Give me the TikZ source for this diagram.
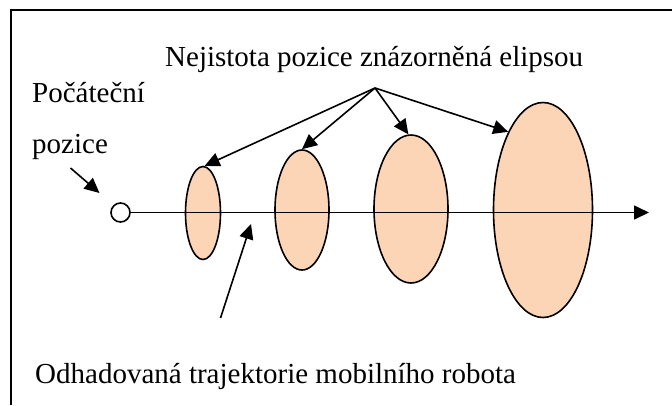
\documentclass[tikz,border=0pt]{standalone}
\usepackage{fontspec}
\setmainfont{Liberation Serif}
\usetikzlibrary{arrows.meta,shapes.geometric}
\definecolor{peach}{RGB}{251,213,181}
\begin{document}
\begin{tikzpicture}[x=1pt,y=-1pt,
  lbl/.style={inner sep=0pt,anchor=base west,font=\fontsize{29}{34}\selectfont},
  blob/.style={ellipse,draw,line width=1.6pt,fill=peach,inner sep=0pt},
  pointer/.style={line width=1.6pt,-{Triangle[length=15pt,width=14pt]}}]
\useasboundingbox (0,0) rectangle (672,405);
% frame
\draw[line width=2pt] (672,10) -- (11,10) -- (11,405);
% uncertainty ellipses
\node[blob,minimum width=35pt,minimum height=93pt] (e1) at (203,213) {};
\node[blob,minimum width=54pt,minimum height=120pt] (e2) at (302,210) {};
\node[blob,minimum width=74pt,minimum height=148pt] (e3) at (411,209) {};
\node[blob,minimum width=99pt,minimum height=215pt] (e4) at (543,210) {};
% start position and trajectory
\node[circle,draw,line width=1.6pt,fill=white,minimum size=19pt,inner sep=0pt] (start) at (120.5,212.5) {};
\coordinate (end) at (649,212.5);
\draw[pointer] (start.east) -- (end);
% labels
\node[lbl] (title) at (165,66) {Nejistota pozice znázorněná elipsou};
\node[lbl] (init1) at (32,102) {Počáteční};
\node[lbl] (init2) at (32,153) {pozice};
\node[lbl] (traj) at (35,383) {Odhadovaná trajektorie mobilního robota};
% pointers
\coordinate (hub) at (375,88);
\draw[pointer] (hub) -- (e1.88);
\draw[pointer] (hub) -- (e2.north);
\draw[pointer] (hub) -- (e3.92);
\draw[pointer] (hub) -- (e4.114);
\coordinate (s0) at (70.5,168);
\coordinate (s1) at (99.5,193);
\draw[pointer] (s0) -- (s1);
\coordinate (t0) at (220.5,318);
\coordinate (t1) at (251,224);
\draw[pointer] (t0) -- (t1);
\end{tikzpicture}
\end{document}
